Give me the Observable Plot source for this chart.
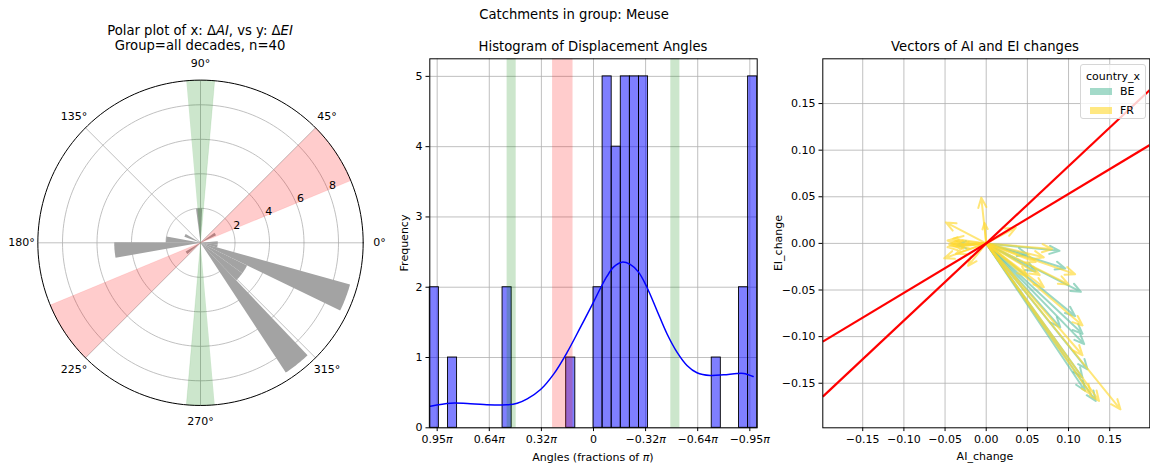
<!DOCTYPE html>
<html>
<head>
<meta charset="utf-8">
<script src="https://cdn.jsdelivr.net/npm/d3@7"></script>
<script src="https://cdn.jsdelivr.net/npm/@observablehq/plot@0.6"></script>
<style>
  body { margin: 0; background: #fff; }
  #fig { position: relative; width: 1150px; height: 466px; overflow: hidden;
         font-family: "DejaVu Sans", sans-serif; color: #000; background: #fff; }
  #fig svg { position: absolute; top: 0; overflow: visible; }
  .t { position: absolute; white-space: nowrap; transform: translate(-50%, -50%);
       font-size: 13.2px; line-height: 1; }
  .lab { position: absolute; white-space: nowrap; transform: translate(-50%, -50%);
         font-size: 11px; line-height: 1; }
  .rot { transform: translate(-50%, -50%) rotate(-90deg); }
  .legend { position: absolute; left: 1080px; top: 64px; width: 64px; height: 53px;
            border: 1px solid #d6d6d6; border-radius: 3px; background: rgba(255,255,255,0.8);
            font-size: 11px; }
  .legend .sw { position: absolute; left: 9px; width: 22px; height: 7px; }
  .legend .nm { position: absolute; left: 39px; line-height: 1; }
</style>
</head>
<body>
<div id="fig"></div>
<script>
// ---------- Polar histogram of vector directions ----------
const polarLo    = [-56.7, -46.4, -36.2, -25.9, -15.6, -5.3, 25.5, 87.2, 148.9, 169.4, 179.7, 210.6];
const polarHi    = [-46.4, -36.2, -25.9, -15.6, -5.3, 5.0, 35.7, 97.5, 159.2, 179.7, 190.0, 220.9];
const polarCount = [9, 3, 3, 9, 1, 1, 1, 2, 1, 2, 5, 1];
const polarRMax = 9.43;
const polarRTicks = [2, 4, 6, 8];
const polarAngleTicks = [0, 45, 90, 135, 180, 225, 270, 315];

// Highlighted direction sectors (degrees)
const sectorLo    = [22.5, 202.5, 85, 265];
const sectorHi    = [45, 225, 95, 275];
const sectorColor = ["red", "red", "green", "green"];

// ---------- Histogram of displacement angles (10-degree bins) ----------
const histLoDeg  = [170, 150, 90, 20, -10, -20, -30, -40, -50, -60, -140, -170, -180];
const histCounts = [2, 1, 2, 1, 2, 5, 4, 5, 5, 5, 1, 2, 5];
const histBinDeg = 10;
const histTicks  = [3, 2, 1, 0, -1, -2, -3];
const histYTicks = [0, 1, 2, 3, 4, 5];
const histBandLo    = [85, -95, 22.5];
const histBandHi    = [95, -85, 45];
const histBandColor = ["green", "green", "red"];

// Kernel density curve (scaled to counts), angle in radians
const kdeX = [3.129, 2.745, 2.424, 2.105, 1.656, 1.464, 1.272, 1.016, 0.761, 0.504, 0.249, 0.0,
              -0.128, -0.257, -0.384, -0.545, -0.704, -0.864, -1.025, -1.217, -1.41, -1.602,
              -1.794, -1.986, -2.242, -2.497, -2.754, -2.882, -3.063];
const kdeY = [0.307, 0.35, 0.345, 0.331, 0.327, 0.35, 0.412, 0.545, 0.768, 1.076, 1.432, 1.788,
              1.978, 2.153, 2.286, 2.357, 2.324, 2.215, 2.0, 1.67, 1.338, 1.076,
              0.887, 0.783, 0.744, 0.754, 0.773, 0.773, 0.73];

// ---------- AI / EI change vectors per catchment ----------
const vecCountry = ["BE","BE","BE","BE","BE","BE","BE","BE","BE","BE","BE","BE","BE","BE",
                    "FR","FR","FR","FR","FR","FR","FR","FR","FR","FR","FR","FR","FR",
                    "FR","FR","FR","FR","FR","FR","FR","FR","FR","FR","FR","FR","FR"];
const vecAI = [0.089, 0.096, 0.05, 0.115, 0.06, 0.117, 0.108, 0.119, 0.123, 0.09, 0.133, 0.117, 0.12, -0.035,
               -0.006, -0.002, -0.049, -0.047, -0.04, 0.036, 0.08, 0.108, 0.07, 0.06, 0.1, 0.065, 0.117,
               0.07, 0.05, 0.163, 0.117, 0.137, 0.127, -0.022, -0.051, -0.037, -0.045, -0.047, -0.04, -0.03];
const vecEI = [-0.008, -0.027, -0.012, -0.052, -0.03, -0.097, -0.078, -0.108, -0.135, -0.09, -0.169, -0.144, -0.158, -0.002,
               0.049, 0.022, 0.0225, 0.003, 0.005, 0.017, -0.006, -0.033, -0.015, -0.02, -0.044, -0.034, -0.088,
               -0.047, -0.035, -0.178, -0.12, -0.169, -0.162, -0.024, -0.016, -0.011, -0.001, -0.004, -0.002, -0.003];
const countries = ["BE", "FR"];
const countryColors = ["#66c2a5", "#ffd92f"];
const refSlopes = [0.531, 0.828];
const vecTicks = [-0.15, -0.10, -0.05, 0, 0.05, 0.10, 0.15];

// ---------- helpers ----------
const rad = d => d * Math.PI / 180;
const fmtMinus = s => s.replace(/-/g, "\u2212");
const gridStyle = {stroke: "#b0b0b0", strokeOpacity: 1, strokeWidth: 0.8};
const baseStyle = {fontFamily: "DejaVu Sans", fontSize: "11px", background: "transparent", color: "#000"};
const tickOpts = {tickSize: 3.8, tickPadding: 3.5, label: null, fontSize: 11};

function wedge(id, lo, hi, r) {
  const pts = [{id, x: 0, y: 0}];
  const n = Math.max(4, Math.ceil(hi - lo));
  for (let i = 0; i <= n; i++) {
    const a = rad(lo + (hi - lo) * i / n);
    pts.push({id, x: r * Math.cos(a), y: r * Math.sin(a)});
  }
  return pts;
}
function ring(id, r) {
  return d3.range(0, 361, 2).map(a => ({id, x: r * Math.cos(rad(a)), y: r * Math.sin(rad(a))}));
}

const fig = document.getElementById("fig");

// ---------- Panel 1: polar plot ----------
const pxPerUnit = 17.25, pcx = 200, pcy = 242.3, pW = 400, pH = 466;
const barPts = polarCount.flatMap((c, i) => wedge("b" + i, polarLo[i], polarHi[i], c));
const sectorPts = sectorLo.map((lo, i) => ({color: sectorColor[i], pts: wedge("s" + i, lo, sectorHi[i], polarRMax)}));
const ringPts = polarRTicks.flatMap(r => ring("r" + r, r));
const labelR = polarRMax * 1.1;

const polar = Plot.plot({
  width: pW, height: pH, margin: 0,
  x: {domain: [-pcx / pxPerUnit, (pW - pcx) / pxPerUnit], axis: null},
  y: {domain: [-(pH - pcy) / pxPerUnit, pcy / pxPerUnit], axis: null},
  style: baseStyle,
  marks: [
    Plot.line(ringPts, {x: "x", y: "y", z: "id", ...gridStyle}),
    Plot.link(polarAngleTicks, {x1: 0, y1: 0,
      x2: d => polarRMax * Math.cos(rad(d)), y2: d => polarRMax * Math.sin(rad(d)), ...gridStyle}),
    Plot.line(barPts, {x: "x", y: "y", z: "id", fill: "#a3a3a3", stroke: "none"}),
    ...sectorPts.map(s => Plot.line(s.pts, {x: "x", y: "y", fill: s.color, fillOpacity: 0.2,
      stroke: s.color, strokeOpacity: 0.15, strokeWidth: 0.6})),
    Plot.line(ring("outer", polarRMax), {x: "x", y: "y", stroke: "#000", strokeWidth: 1}),
    Plot.text(polarAngleTicks, {x: d => labelR * Math.cos(rad(d)), y: d => labelR * Math.sin(rad(d)),
      text: d => d + "\u00b0", fontSize: 11}),
    Plot.text(polarRTicks, {x: d => d * Math.cos(rad(22.5)), y: d => d * Math.sin(rad(22.5)),
      text: d => String(d), textAnchor: "start", lineAnchor: "bottom", dx: 1, dy: -1, fontSize: 11})
  ]
});
polar.style.left = "0px";
fig.appendChild(polar);

// ---------- Panel 2: histogram ----------
const histData = histCounts.map((c, i) => ({lo: rad(histLoDeg[i]), hi: rad(histLoDeg[i] + histBinDeg), c}));
const bandData = histBandLo.map((lo, i) => ({lo: rad(lo), hi: rad(histBandHi[i]), color: histBandColor[i]}));
const kde = kdeX.map((x, i) => ({x, y: kdeY[i]}));

const hist = Plot.plot({
  width: 380, height: 466,
  marginLeft: 49.3, marginRight: 3.3, marginTop: 58.3, marginBottom: 38.7,
  x: {domain: [Math.PI, -Math.PI]},
  y: {domain: [0, 5.25]},
  style: baseStyle,
  marks: [
    Plot.gridX(histTicks, gridStyle),
    Plot.gridY(histYTicks, gridStyle),
    Plot.rect(histData, {x1: "lo", x2: "hi", y1: 0, y2: "c", fill: "blue", fillOpacity: 0.5,
      stroke: "#000", strokeWidth: 0.9}),
    Plot.rect(bandData, {x1: "lo", x2: "hi", fill: "color", fillOpacity: 0.2}),
    Plot.line(kde, {x: "x", y: "y", stroke: "blue", strokeWidth: 1.5, curve: "catmull-rom"}),
    Plot.frame({stroke: "#000", strokeWidth: 1}),
    Plot.axisX(histTicks, {...tickOpts,
      tickFormat: d => d === 0 ? "0" : fmtMinus((d / Math.PI).toFixed(2)) + "\u03c0"}),
    Plot.axisY(histYTicks, {...tickOpts, tickFormat: d => String(d)})
  ]
});
hist.style.left = "380px";
fig.appendChild(hist);
hist.querySelectorAll("text").forEach(t => {
  if (t.textContent.includes("\u03c0") && t.children.length === 0) {
    const s = t.textContent.replace("\u03c0", "");
    t.textContent = s;
    const ts = document.createElementNS("http://www.w3.org/2000/svg", "tspan");
    ts.setAttribute("font-style", "italic");
    ts.textContent = "\u03c0";
    t.appendChild(ts);
  }
});

// ---------- Panel 3: vectors ----------
const vecs = vecAI.map((x, i) => ({x, y: vecEI[i], c: vecCountry[i]}));
const vx0 = -0.1985, vx1 = 0.1987;
const vec = Plot.plot({
  width: 380, height: 466,
  marginLeft: 52.3, marginRight: 0.7, marginTop: 58.3, marginBottom: 38.7,
  x: {domain: [vx0, vx1]},
  y: {domain: [-0.1978, 0.198]},
  color: {domain: countries, range: countryColors},
  style: baseStyle,
  marks: [
    Plot.gridX(vecTicks, gridStyle),
    Plot.gridY(vecTicks, gridStyle),
    Plot.arrow(vecs, {x1: 0, y1: 0, x2: "x", y2: "y", stroke: "c", strokeOpacity: 0.65,
      strokeWidth: 2, headLength: 8, headAngle: 45, bend: 0}),
    Plot.link(refSlopes, {x1: vx0, y1: s => s * vx0, x2: vx1, y2: s => s * vx1,
      stroke: "red", strokeWidth: 2.2, clip: true}),
    Plot.frame({stroke: "#000", strokeWidth: 1}),
    Plot.axisX(vecTicks, {...tickOpts, tickFormat: d => fmtMinus(d3.format(".2f")(d))}),
    Plot.axisY(vecTicks, {...tickOpts, tickFormat: d => fmtMinus(d3.format(".2f")(d))})
  ]
});
vec.style.left = "770px";
fig.appendChild(vec);

// ---------- Titles, axis labels, legend ----------
function addText(cls, x, y, html) {
  const d = document.createElement("div");
  d.className = cls;
  d.style.left = x + "px";
  d.style.top = y + "px";
  d.innerHTML = html;
  fig.appendChild(d);
}
addText("t", 574, 15, "Catchments in group: Meuse");
addText("t", 200, 31, "Polar plot of x: \u0394<i>AI</i>, vs y: \u0394<i>EI</i>");
addText("t", 200, 46, "Group=all decades, n=40");
addText("t", 593, 47, "Histogram of Displacement Angles");
addText("t", 985, 47, "Vectors of AI and EI changes");
addText("lab", 593, 457, "Angles (fractions of <i>\u03c0</i>)");
addText("lab rot", 404, 243, "Frequency");
addText("lab", 985, 456, "AI_change");
addText("lab rot", 778, 243, "EI_change");

const lg = document.createElement("div");
lg.className = "legend";
let lgHtml = '<div style="position:absolute;left:0;width:100%;top:5px;text-align:center">country_x</div>';
countries.forEach((c, i) => {
  const top = 23 + i * 18.5;
  lgHtml += `<div class="sw" style="top:${top}px;background:${countryColors[i]};opacity:0.6"></div>`;
  lgHtml += `<div class="nm" style="top:${top - 2}px">${c}</div>`;
});
lg.innerHTML = lgHtml;
fig.appendChild(lg);
</script>
</body>
</html>
